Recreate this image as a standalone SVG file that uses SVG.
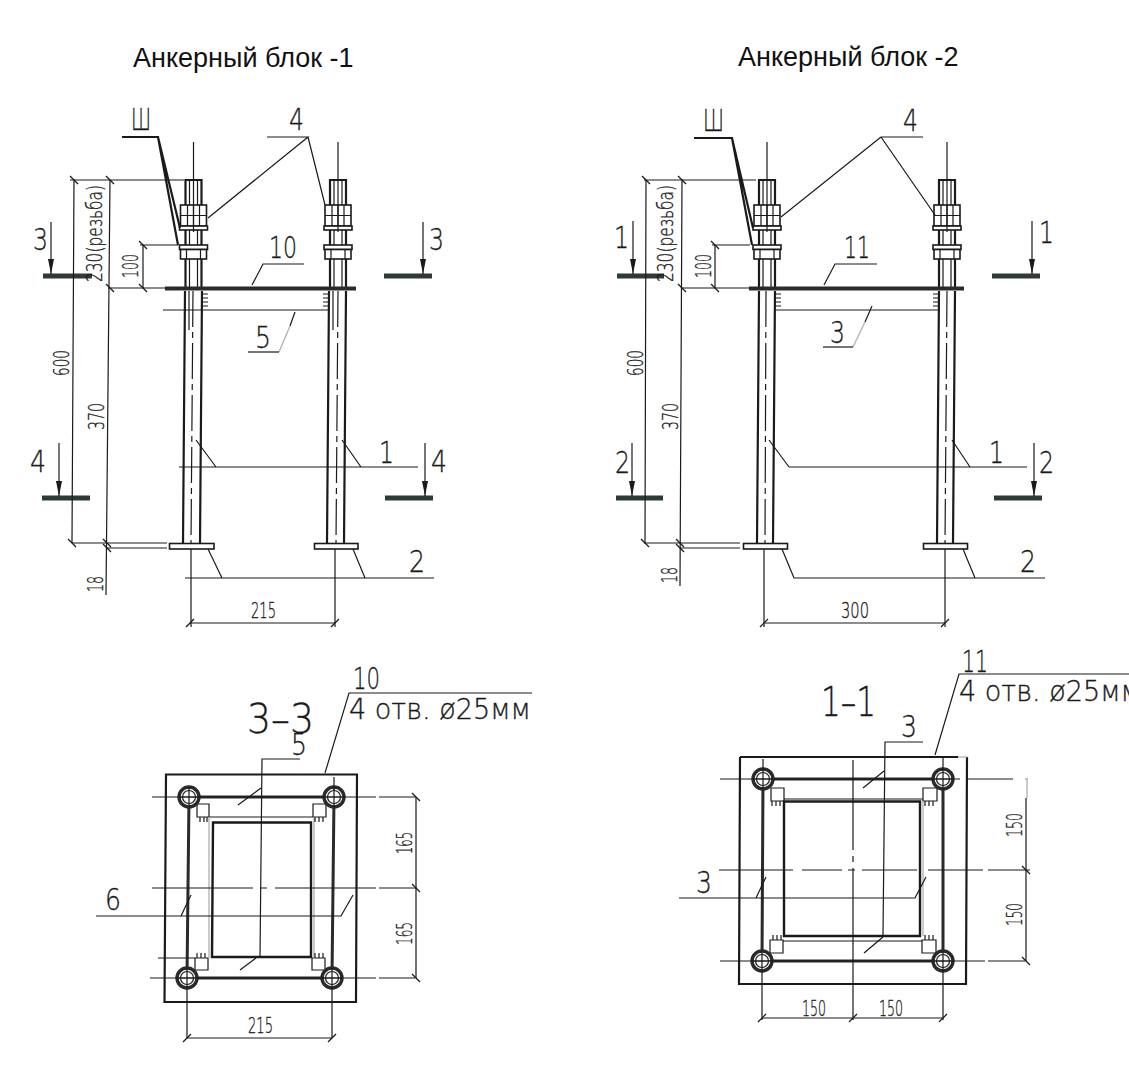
<svg xmlns="http://www.w3.org/2000/svg" width="1129" height="1073" viewBox="0 0 1129 1073">
<style>
text{fill:#1a1a1a;stroke:#1a1a1a;stroke-width:.35}
.title{font:27px "Liberation Sans",Arial,sans-serif;fill:#111;stroke:none}
.big{font:200 31px "DejaVu Sans","Liberation Sans",sans-serif}
.huge{font:200 40px "DejaVu Sans","Liberation Sans",sans-serif}
.note{font:200 28px "DejaVu Sans","Liberation Sans",sans-serif}
.dim{font:200 22px "DejaVu Sans","Liberation Sans",sans-serif}
path,line,rect,circle{fill:none;stroke:#1a1a1a;stroke-width:1.2}
.thk{stroke-width:2.2}
.hvy{stroke-width:3;stroke:#2a2a2a}
.wh{fill:#fff;stroke-width:1.6}
.bar{stroke:#2e3a38;stroke-width:5}
.cl{stroke-width:1.2;stroke-dasharray:36 5 6 5}
.gr{stroke:#b5b5b5;stroke-width:1.4}
.ar{marker-end:url(#arrow)}
</style>
<defs>
<marker id="arrow" markerUnits="userSpaceOnUse" markerWidth="16" markerHeight="6" refX="15" refY="3" orient="auto" viewBox="0 0 16 6"><path d="M0 0L15 3L0 6Z" style="fill:#1a1a1a;stroke:none"/></marker>
<path id="tv" d="M-4-4L4 4"/>
<path id="th" d="M-4 4L4-4"/>
<g id="bolt">
<path class="thk" d="M-8 205V180H8V205M-8 259V287M8 259V287"/>
<path d="M-4 180V205M4 180V205M-4 259V287M4 259V287"/>
<rect class="wh" x="-13" y="205" width="26" height="21"/>
<path d="M-13 215.500H13M-6 205V226M0 205V226M6 205V226"/>
<rect class="wh" x="-14" y="226" width="28" height="4"/>
<path class="thk" d="M-8 230V245M8 230V245"/>
<path d="M-4 230V245M4 230V245"/>
<rect class="wh" x="-14" y="245" width="28" height="4.500"/>
<rect class="wh" x="-13" y="249.500" width="26" height="9.500"/>
<path d="M-7 249.500V259M7 249.500V259"/>
<path d="M0 142V232"/>
</g>
<g id="hole">
<circle r="10" class="hvy" style="stroke-width:3.400;fill:#fff"/>
<circle r="6.500" style="fill:#fff"/>
<path d="M-10 0H10M0-10V10"/>
</g>
</defs>

<g id="titles">
<text class="title" x="133" y="67">Анкерный блок -1</text>
<text class="title" x="738" y="66">Анкерный блок -2</text>
</g>

<g id="elevation-1">
<use href="#bolt" x="193.500"/>
<use href="#bolt" x="338"/>
<path class="hvy" d="M165 288.500H356" style="stroke-width:4"/>
<path class="thk" d="M185 291L183 543M202 291L200 543M329 291L327 543M346 291L344 543"/>
<path d="M189 291V330M333 291V330"/>
<path class="cl" d="M193 291L191 543M338 291L336 543"/>
<path d="M163 310H328M202 294h6M202 298h6M202 302h6M202 306h6M323 294h6M323 298h6M323 302h6M323 306h6"/>
<rect class="wh" x="169.500" y="543.500" width="44.500" height="5.500"/>
<rect class="wh" x="314.500" y="543.500" width="43.500" height="5.500"/>
</g>

<g id="elevation-2">
<use href="#bolt" x="767"/>
<use href="#bolt" x="947"/>
<path class="hvy" d="M749 288.500H964" style="stroke-width:4"/>
<path class="thk" d="M759 291L757 543M775 291L773 543M939 291L937 543M955 291L953 543"/>
<path class="cl" d="M766 291L765 543M947 291L945 543"/>
<path d="M775 310H938M775 294h6M775 298h6M775 302h6M775 306h6M933 294h6M933 298h6M933 302h6M933 306h6"/>
<rect class="wh" x="743.500" y="543.500" width="44" height="5.500"/>
<rect class="wh" x="923.500" y="543.500" width="44" height="5.500"/>
</g>

<g id="plan-1">
<path class="thk" d="M166 774.500H357L356 1002H164.500Z"/>
<path class="hvy" d="M189 797H334L332 978H187Z"/>
<path d="M197 804h12v13h-12ZM313 804h13v13h-13ZM195 958h13v12h-13ZM312 958h13v12h-13ZM209 817H313"/>
<path class="gr" d="M209 817V958M314 817V958"/>
<path class="thk" d="M213 822.500H311V957H212Z" style="stroke-width:2.400"/>
<path d="M200 817v5M204 817v5M207 817v5M315 817v5M319 817v5M323 817v5M197 953v5M201 953v5M205 953v5M315 953v5M319 953v5M323 953v5"/>
<use href="#hole" x="189" y="797"/>
<use href="#hole" x="334" y="797"/>
<use href="#hole" x="187" y="978"/>
<use href="#hole" x="332" y="978"/>
<path d="M152 797H376M379 797H415M150 978H376M379 978H415M158 958H195M152 888H253M260 888H267M275 888H376M379 888H417"/>
<path d="M334 777V790"/>
</g>

<g id="plan-2">
<path class="thk" d="M740 757H958M967 757L966 984H739L740 757"/>
<path class="gr" d="M958 757H967"/>
<path class="hvy" d="M763 779H943V961H762Z"/>
<path d="M771 788h13v13h-13ZM923 788h14v13h-14ZM770 940h13v13h-13ZM922 940h14v13h-14ZM784 799H923M783 941H922"/>
<path class="gr" d="M923 801V936"/>
<path class="thk" d="M784 801.500H920V936H784Z" style="stroke-width:2.400"/>
<path d="M772 801v5M776 801v5M780 801v5M925 801v5M929 801v5M933 801v5M773 935v5M777 935v5M781 935v5M925 935v5M929 935v5M933 935v5"/>
<use href="#hole" x="763" y="779"/>
<use href="#hole" x="943" y="779"/>
<use href="#hole" x="762" y="961"/>
<use href="#hole" x="943" y="961"/>
<path d="M720 779H960M968 779H1013M720 961H985M988 961H1025M719 870H793M802 870H842M848 870H855M862 870H917M928 870H983M988 870H1030"/>
<path d="M853 760V850M853 856V862M853 868V1020M763 759V770M943 758V770"/>
<path class="gr" d="M1027 779V798M1025 779H1028"/>
</g>

<g id="connectors">
<path class="thk" d="M122 137H158L180 228M158 137L178 245"/>
<path d="M267 137H308L208 218M308 137L325 205"/>
<path d="M252 285L263 264H304M295 312L290 326"/>
<path class="gr" d="M290 326L279 352"/>
<path d="M279 352H248"/>
<path d="M179 467H418M216 467L196 440M361 467L342 440"/>
<path d="M185 578H434M222 578L208 549M365 578L353 549"/>
<path class="thk" d="M694 138H732L753 228M732 138L752 245"/>
<path d="M881 137H923M881 137L781 217M881 137L935 215"/>
<path d="M824 285L835 264H877M872 306L865 322"/>
<path class="gr" d="M865 322L853 347"/>
<path d="M853 347H823"/>
<path d="M789 467H1027M789 467L769 440M970 467L952 440"/>
<path d="M794 578H1045M794 578L782 549M975 578L963 549"/>
<path d="M325 773L349 693H532M300 759H262L260 957M261 788L238 805M256 958L240 970"/>
<path d="M96 916H341L353 895M181 916L191 895"/>
<path d="M935 755L959 674H1129M923 742H885L883 935M884 771L863 788M883 937L864 953"/>
<path d="M679 898H915L926 877M756 898L766 877"/>
</g>

<g id="section-marks">
<line class="bar" x1="43" y1="276" x2="92" y2="276"/><line class="bar" x1="384" y1="276" x2="432" y2="276"/>
<line class="bar" x1="42" y1="498" x2="90" y2="498"/><line class="bar" x1="385" y1="498" x2="433" y2="498"/>
<line class="bar" x1="617" y1="276" x2="664" y2="276"/><line class="bar" x1="992" y1="276" x2="1040" y2="276"/>
<line class="bar" x1="616" y1="498" x2="663" y2="498"/><line class="bar" x1="994" y1="498" x2="1042" y2="498"/>
<line class="ar" x1="51" y1="222" x2="51" y2="274"/><line class="ar" x1="423" y1="222" x2="423" y2="274"/>
<line class="ar" x1="59" y1="443" x2="59" y2="496"/><line class="ar" x1="425" y1="443" x2="425" y2="496"/>
<line class="ar" x1="633" y1="221" x2="633" y2="274"/><line class="ar" x1="1032" y1="221" x2="1032" y2="274"/>
<line class="ar" x1="632" y1="443" x2="632" y2="496"/><line class="ar" x1="1034" y1="443" x2="1034" y2="496"/>
</g>

<g id="dimensions">
<path d="M74 180L72 543M110 180L106 595M70 180H184M108 288H165M143 245V288M140 245H178M72 543H167M106 548H167"/>
<use href="#tv" x="74" y="180"/><use href="#tv" x="110" y="180"/><use href="#tv" x="110" y="288"/><use href="#tv" x="143" y="288"/><use href="#tv" x="143" y="245"/><use href="#tv" x="72" y="543"/><use href="#tv" x="107" y="543"/><use href="#tv" x="107" y="548"/>
<path d="M191 549V627M335 549V627M190 623H335"/><use href="#th" x="190" y="623"/><use href="#th" x="335" y="623"/>
<path d="M646 180L645 543M682 180L680 586M644 180H756M682 288H749M715 245V288M712 245H750M644 543H740M680 548H740"/>
<use href="#tv" x="646" y="180"/><use href="#tv" x="682" y="180"/><use href="#tv" x="682" y="288"/><use href="#tv" x="715" y="288"/><use href="#tv" x="715" y="245"/><use href="#tv" x="645" y="543"/><use href="#tv" x="680" y="543"/><use href="#tv" x="680" y="548"/>
<path d="M764 549V627M945 549V627M764 623H945"/><use href="#th" x="764" y="623"/><use href="#th" x="945" y="623"/>
<path d="M416 797V978M187 988V1038M332 988V1038M187 1038H332"/>
<use href="#tv" x="416" y="797"/><use href="#tv" x="416" y="888"/><use href="#tv" x="416" y="978"/><use href="#th" x="187" y="1038"/><use href="#th" x="332" y="1038"/>
<path d="M1026 798V961M762 971V1020M943 971V1020M762 1018H943"/>
<use href="#tv" x="1026" y="870"/><use href="#tv" x="1026" y="961"/><use href="#th" x="762" y="1018"/><use href="#th" x="853" y="1018"/><use href="#th" x="943" y="1018"/>
</g>

<g id="labels-1">
<text class="big" x="131" y="130" textLength="20" lengthAdjust="spacingAndGlyphs">Ш</text>
<text class="big" x="289" y="130" textLength="15" lengthAdjust="spacingAndGlyphs">4</text>
<text class="big" x="33" y="250" textLength="15" lengthAdjust="spacingAndGlyphs">3</text>
<text class="big" x="429" y="250" textLength="15" lengthAdjust="spacingAndGlyphs">3</text>
<text class="big" x="269" y="258" textLength="28" lengthAdjust="spacingAndGlyphs">10</text>
<text class="big" x="255" y="348" textLength="16" lengthAdjust="spacingAndGlyphs">5</text>
<text class="big" x="30" y="472" textLength="16" lengthAdjust="spacingAndGlyphs">4</text>
<text class="big" x="431" y="472" textLength="16" lengthAdjust="spacingAndGlyphs">4</text>
<text class="big" x="379" y="463" textLength="15" lengthAdjust="spacingAndGlyphs">1</text>
<text class="big" x="409" y="572" textLength="16" lengthAdjust="spacingAndGlyphs">2</text>
<text class="dim" x="251" y="618" textLength="25" lengthAdjust="spacingAndGlyphs">215</text>
<text class="dim" transform="translate(102 282) rotate(-90)" textLength="97" lengthAdjust="spacingAndGlyphs">230(резьба)</text>
<text class="dim" transform="translate(138 278) rotate(-90)" textLength="24" lengthAdjust="spacingAndGlyphs">100</text>
<text class="dim" transform="translate(69 376) rotate(-90)" textLength="26" lengthAdjust="spacingAndGlyphs">600</text>
<text class="dim" transform="translate(104 430) rotate(-90)" textLength="27" lengthAdjust="spacingAndGlyphs">370</text>
<text class="dim" transform="translate(103 592) rotate(-90)" textLength="16" lengthAdjust="spacingAndGlyphs">18</text>
</g>

<g id="labels-2">
<text class="big" x="703" y="131" textLength="21" lengthAdjust="spacingAndGlyphs">Ш</text>
<text class="big" x="903" y="131" textLength="15" lengthAdjust="spacingAndGlyphs">4</text>
<text class="big" x="614" y="248" textLength="15" lengthAdjust="spacingAndGlyphs">1</text>
<text class="big" x="1039" y="243" textLength="15" lengthAdjust="spacingAndGlyphs">1</text>
<text class="big" x="844" y="258" textLength="26" lengthAdjust="spacingAndGlyphs">11</text>
<text class="big" x="830" y="343" textLength="15" lengthAdjust="spacingAndGlyphs">3</text>
<text class="big" x="615" y="473" textLength="15" lengthAdjust="spacingAndGlyphs">2</text>
<text class="big" x="1039" y="473" textLength="15" lengthAdjust="spacingAndGlyphs">2</text>
<text class="big" x="989" y="463" textLength="15" lengthAdjust="spacingAndGlyphs">1</text>
<text class="big" x="1020" y="572" textLength="16" lengthAdjust="spacingAndGlyphs">2</text>
<text class="dim" x="841" y="618" textLength="28" lengthAdjust="spacingAndGlyphs">300</text>
<text class="dim" transform="translate(673 282) rotate(-90)" textLength="97" lengthAdjust="spacingAndGlyphs">230(резьба)</text>
<text class="dim" transform="translate(711 278) rotate(-90)" textLength="24" lengthAdjust="spacingAndGlyphs">100</text>
<text class="dim" transform="translate(643 376) rotate(-90)" textLength="26" lengthAdjust="spacingAndGlyphs">600</text>
<text class="dim" transform="translate(678 430) rotate(-90)" textLength="27" lengthAdjust="spacingAndGlyphs">370</text>
<text class="dim" transform="translate(677 583) rotate(-90)" textLength="16" lengthAdjust="spacingAndGlyphs">18</text>
</g>

<g id="labels-plan-1">
<text class="huge" x="247" y="733" textLength="67" lengthAdjust="spacingAndGlyphs">3–3</text>
<text class="big" x="353" y="689" textLength="27" lengthAdjust="spacingAndGlyphs">10</text>
<text class="big" x="291" y="755" textLength="16" lengthAdjust="spacingAndGlyphs">5</text>
<text class="note" x="349" y="719" textLength="182" lengthAdjust="spacingAndGlyphs">4 отв. ø25мм</text>
<text class="big" x="105" y="910" textLength="16" lengthAdjust="spacingAndGlyphs">6</text>
<text class="dim" transform="translate(412 854) rotate(-90)" textLength="22" lengthAdjust="spacingAndGlyphs">165</text>
<text class="dim" transform="translate(412 945) rotate(-90)" textLength="23" lengthAdjust="spacingAndGlyphs">165</text>
<text class="dim" x="248" y="1033" textLength="25" lengthAdjust="spacingAndGlyphs">215</text>
</g>

<g id="labels-plan-2">
<text class="huge" x="821" y="716" textLength="55" lengthAdjust="spacingAndGlyphs">1–1</text>
<text class="big" x="962" y="672" textLength="26" lengthAdjust="spacingAndGlyphs">11</text>
<text class="big" x="901" y="737" textLength="16" lengthAdjust="spacingAndGlyphs">3</text>
<text class="note" x="959" y="701" textLength="182" lengthAdjust="spacingAndGlyphs">4 отв. ø25мм</text>
<text class="big" x="696" y="893" textLength="16" lengthAdjust="spacingAndGlyphs">3</text>
<text class="dim" transform="translate(1022 837) rotate(-90)" textLength="24" lengthAdjust="spacingAndGlyphs">150</text>
<text class="dim" transform="translate(1022 926) rotate(-90)" textLength="23" lengthAdjust="spacingAndGlyphs">150</text>
<text class="dim" x="802" y="1016" textLength="24" lengthAdjust="spacingAndGlyphs">150</text>
<text class="dim" x="879" y="1016" textLength="24" lengthAdjust="spacingAndGlyphs">150</text>
</g>
</svg>
